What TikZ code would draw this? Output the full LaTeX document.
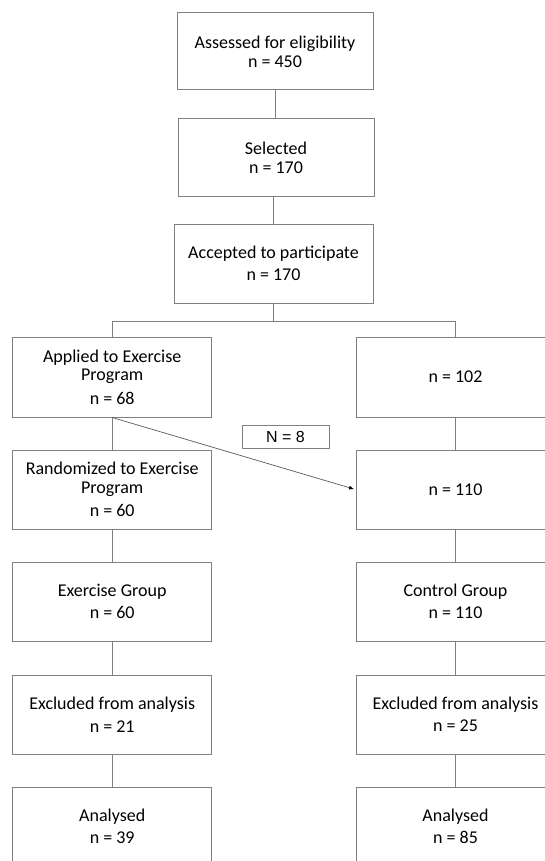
\documentclass[tikz,border=0pt]{standalone}
\usepackage{fontspec}
\setmainfont{Carlito}
\newfontfamily\labelfont{Liberation Sans}
\usetikzlibrary{arrows.meta}
\definecolor{boxline}{RGB}{128,128,128}
\definecolor{arrowline}{RGB}{90,90,90}
\tikzset{
  flowbox/.style={draw=boxline, line width=1pt, minimum width=199pt,
    minimum height=79pt, inner sep=0pt, align=center,
    font=\fontsize{18}{18.5}\selectfont},
  link/.style={draw=boxline, line width=1pt},
}
\begin{document}
\begin{tikzpicture}[x=1pt,y=-1pt]
  \useasboundingbox (0,0) rectangle (545,861);
  \clip (0,0) rectangle (545,861);

  % top column
  \node[flowbox, minimum width=196pt, minimum height=77pt] (assessed) at (275,51.5)
    {Assessed for eligibility\\[0.5pt]n = 450};
  \node[flowbox, minimum width=196pt, minimum height=77pt] (selected) at (276,157.5)
    {Selected\\[0.5pt]n = 170};
  \node[flowbox] (accepted) at (273.5,263.5)
    {Accepted to participate\\[3.5pt]n = 170};

  % exercise side
  \node[flowbox, minimum height=80pt] (applied) at (112.2,377)
    {Applied to Exercise\\Program\\[5pt]n = 68};
  \node[flowbox] (randex) at (112.2,489.5)
    {Randomized to Exercise\\Program\\[5pt]n = 60};
  \node[flowbox] (exgroup) at (112.2,601.5) {Exercise Group\\[4pt]n = 60};
  \node[flowbox] (exexcl) at (112.2,714.5) {Excluded from analysis\\[4pt]n = 21};
  \node[flowbox] (exanalysed) at (112.2,826.5) {Analysed\\[4pt]n = 39};

  % control side
  \node[flowbox, minimum height=80pt] (rest) at (455.5,377) {n = 102};
  \node[flowbox] (moved) at (455.5,489.5) {n = 110};
  \node[flowbox] (ctgroup) at (455.5,601.5) {Control Group\\[4pt]n = 110};
  \node[flowbox] (ctexcl) at (455.5,714.5) {Excluded from analysis\\[4pt]n = 25};
  \node[flowbox] (ctanalysed) at (455.5,826.5) {Analysed\\[4pt]n = 85};

  \node[draw=boxline, line width=1pt, minimum width=87pt, minimum height=23pt,
    inner sep=0pt, font=\labelfont\fontsize{16}{18}\selectfont] (transfer)
    at (285.5,436.5) {N = 8};

  % connectors
  \coordinate (split) at (0,321);
  \draw[link] (assessed.south) -- (assessed.south |- selected.north);
  \draw[link] (accepted.north) -- (accepted.north |- selected.south);
  \draw[link] (accepted.south) -- (accepted.south |- split);
  \draw[link] (applied.north) -- (applied.north |- split)
    -- (rest.north |- split) -- (rest.north);
  \foreach \a/\b in {applied/randex, randex/exgroup, exgroup/exexcl,
      exexcl/exanalysed, rest/moved, moved/ctgroup, ctgroup/ctexcl,
      ctexcl/ctanalysed} {
    \draw[link] (\a.south) -- (\b.north);
  }
  \draw[arrowline, line width=0.7pt, shorten >=1.5pt,
    -{Latex[length=5pt,width=4pt,color=black]}] (applied.south) -- (moved.west);
\end{tikzpicture}
\end{document}
